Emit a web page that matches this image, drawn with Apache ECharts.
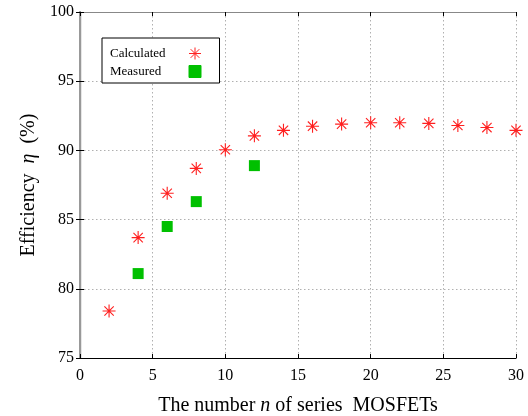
<!DOCTYPE html>
<html>
<head>
<meta charset="utf-8">
<script src="https://cdn.jsdelivr.net/npm/echarts@6/dist/echarts.min.js"></script>
<style>html,body{margin:0;padding:0;background:#fff;}#c{width:528px;height:416px;}</style>
</head>
<body>
<div id="c"></div>
<script>
var calcN = [2, 4, 6, 8, 10, 12, 14, 16, 18, 20, 22, 24, 26, 28, 30];
var calcEff = [78.4, 83.7, 86.9, 88.7, 90.05, 91.05, 91.45, 91.75, 91.9, 92.0, 92.0, 91.95, 91.8, 91.65, 91.45];
var measN = [4, 6, 8, 12];
var measEff = [81.1, 84.5, 86.3, 88.9];
var xTicks = {min: 0, max: 30, interval: 5};
var yTicks = {min: 75, max: 100, interval: 5};

function pairs(xs, ys) { return xs.map(function (x, i) { return [x, ys[i]]; }); }

var FONT = '"Liberation Serif", "Times New Roman", serif';
var star = 'path://M0,-1L0,1M-1,0L1,0M-0.72,-0.72L0.72,0.72M-0.72,0.72L0.72,-0.72';
var gridLine = {show: true, lineStyle: {color: '#b0b0b0', type: [1.5, 2.5], width: 1}};

var chart = echarts.init(document.getElementById('c'), null, {renderer: 'canvas'});
chart.setOption({
  animation: false,
  backgroundColor: '#fff',
  grid: {left: 80, right: 12, top: 12, bottom: 58, containLabel: false, outerBoundsMode: 'none'},
  legend: {
    orient: 'vertical', left: 102, top: 38, align: 'right',
    padding: [9, 18, 5, 8], itemGap: 5, itemWidth: 12, itemHeight: 12,
    borderColor: '#000', borderWidth: 1, backgroundColor: '#fff',
    itemStyle: {borderWidth: 1},
    formatter: '{a|{name}}',
    textStyle: {fontFamily: FONT, fontSize: 13, color: '#000',
      rich: {a: {fontFamily: FONT, fontSize: 13, color: '#000', width: 74, lineHeight: 12, align: 'left'}}},
    data: ['Calculated', 'Measured']
  },
  xAxis: [{
    type: 'value', min: xTicks.min, max: xTicks.max, interval: xTicks.interval,
    position: 'bottom',
    name: '{r|The number }{i|n}{r| of series  MOSFETs}',
    nameLocation: 'middle', nameGap: 38,
    nameTextStyle: {rich: {
      r: {fontFamily: FONT, fontSize: 20, color: '#000'},
      i: {fontFamily: FONT, fontSize: 20, color: '#000', fontStyle: 'italic'}
    }},
    axisLine: {show: true, lineStyle: {color: '#000', width: 1.2}},
    axisTick: {show: true, inside: true, length: 4, lineStyle: {color: '#000'}},
    axisLabel: {fontFamily: FONT, fontSize: 16, color: '#000', margin: 10},
    splitLine: gridLine
  }, {
    type: 'value', min: xTicks.min, max: xTicks.max, interval: xTicks.interval,
    position: 'top',
    axisLine: {show: true, lineStyle: {color: '#888', width: 1}},
    axisTick: {show: true, inside: true, length: 4, lineStyle: {color: '#000'}},
    axisLabel: {show: false}, splitLine: {show: false}
  }],
  yAxis: [{
    type: 'value', min: yTicks.min, max: yTicks.max, interval: yTicks.interval,
    position: 'left',
    name: '{r|Efficiency  }{i|η}{r|  (%)}',
    nameLocation: 'middle', nameGap: 38, nameRotate: 90,
    nameTextStyle: {rich: {
      r: {fontFamily: FONT, fontSize: 20, color: '#000'},
      i: {fontFamily: FONT, fontSize: 20, color: '#000', fontStyle: 'italic'}
    }},
    axisLine: {show: true, lineStyle: {color: '#000', width: 1.2}},
    axisTick: {show: true, inside: true, length: 4, lineStyle: {color: '#000'}},
    axisLabel: {fontFamily: FONT, fontSize: 16, color: '#000', margin: 6},
    splitLine: gridLine
  }, {
    type: 'value', min: yTicks.min, max: yTicks.max, interval: yTicks.interval,
    position: 'right',
    axisLine: {show: true, lineStyle: {color: '#999', width: 2}},
    axisTick: {show: true, inside: true, length: 4, lineStyle: {color: '#000'}},
    axisLabel: {show: false}, splitLine: {show: false}
  }],
  series: [{
    name: 'Calculated', type: 'scatter', data: pairs(calcN, calcEff),
    symbol: star, symbolSize: 13,
    itemStyle: {color: '#ff0000', borderColor: '#ff2020', borderWidth: 1.1, opacity: 1}
  }, {
    name: 'Measured', type: 'scatter', data: pairs(measN, measEff),
    symbol: 'rect', symbolSize: 11,
    itemStyle: {color: '#00c000', borderColor: '#00c000', borderWidth: 0, opacity: 1}
  }]
});
</script>
</body>
</html>
